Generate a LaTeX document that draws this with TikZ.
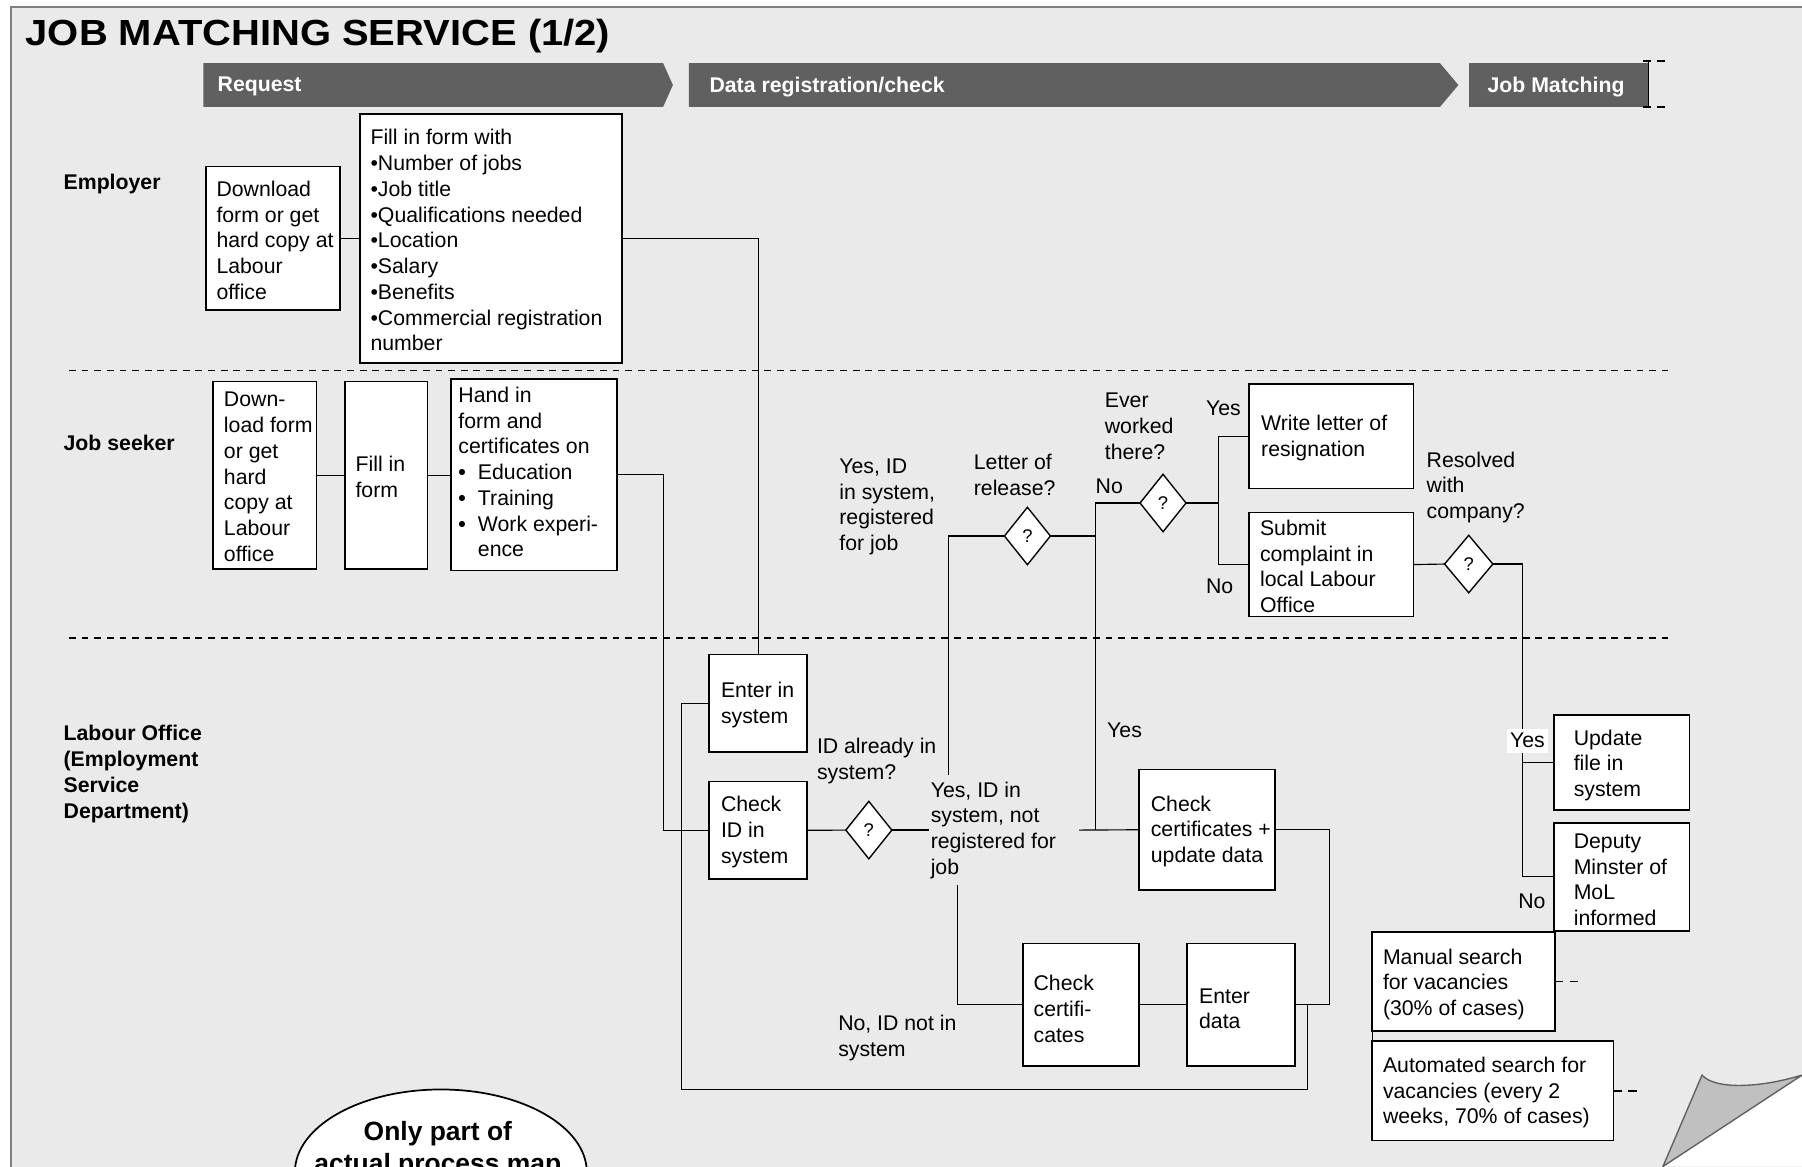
\documentclass[tikz,border=0pt]{standalone}
\usepackage{fontspec}
\usepackage{graphicx}
\setmainfont{Liberation Sans}
\usetikzlibrary{shapes.geometric,calc}
\definecolor{bgc}{HTML}{EAEAEA}
\definecolor{barc}{HTML}{606060}
\definecolor{framec}{HTML}{808080}
\definecolor{curlc}{HTML}{C0C0C0}
\newcommand{\fsn}{\fontsize{9.25pt}{11.2pt}\selectfont}
\newcommand{\blt}{\makebox[8.5pt][l]{\textbf{•}}}
% name, x1, y1, x2, y2, left pad (px), y offset of text (px), text
\newcommand{\mkbox}[8]{%
  \pgfmathsetmacro{\cxA}{(#2+#4)/2}%
  \pgfmathsetmacro{\cyA}{(#3+#5)/2}%
  \pgfmathsetmacro{\wA}{(#4-#2)*0.5}%
  \pgfmathsetmacro{\hA}{(#5-#3)*0.5}%
  \pgfmathsetmacro{\txA}{#2+#6}%
  \pgfmathsetmacro{\tyA}{\cyA+#7}%
  \node[box, minimum width=\wA pt, minimum height=\hA pt] (#1) at (\cxA,\cyA) {};
  \node[txt] (#1t) at (\txA,\tyA) {#8};
}
\begin{document}
\begin{tikzpicture}[x=0.5pt,y=-0.5pt,
  box/.style={draw=black, line width=0.75pt, fill=white, inner sep=0pt, outer sep=0pt},
  txt/.style={font=\fsn, align=left, inner sep=0pt, anchor=west, yshift=-0.75pt},
  lanetxt/.style={txt, font=\fsn\bfseries},
  phtxt/.style={txt, font=\fsn\bfseries, text=white},
  dia/.style={diamond, draw=black, line width=0.6pt, fill=white, inner sep=0pt, outer sep=0pt,
    minimum width=20pt, minimum height=25pt, font=\fontsize{8pt}{9.6pt}\selectfont},
  conn/.style={line width=0.5pt},
  thk/.style={line width=1.1pt},
  lanediv/.style={line width=0.7pt, dash pattern=on 3pt off 2.5pt}
]
\useasboundingbox (0,0) rectangle (1568,1015);
\clip (0,0) rectangle (1568,1015);
\fill[white] (0,0) rectangle (1568,1015);
% page
\filldraw[fill=bgc, draw=framec, line width=0.8pt] (9.6,5.8) rectangle (1620,1080);

% title
\node[anchor=base west, inner sep=0pt] (title) at (22,40)
  {\scalebox{1.1}[1]{\fontsize{15.8pt}{18pt}\selectfont\bfseries JOB MATCHING SERVICE (1/2)}};

% phase bars
\fill[barc] (177,55) -- (577,55) -- (585.5,74) -- (577,93) -- (177,93) -- cycle;
\fill[barc] (599.5,55) -- (1253,55) -- (1269,74) -- (1253,93) -- (599.5,93) -- cycle;
\fill[barc] (1278,55) rectangle (1434,93);
\node[phtxt] (ph1) at (189,74) {Request};
\node[phtxt] (ph2) at (617,74) {Data registration/check};
\node[phtxt] (ph3) at (1294,74) {Job Matching};
\draw[line width=0.4pt] (1434,53) -- (1434,93);
\draw[line width=0.9pt, dash pattern=on 3.5pt off 2.5pt] (1430,53) -- (1450,53);
\draw[line width=0.9pt, dash pattern=on 3.5pt off 2.5pt] (1430,93) -- (1450,93);

% lane dividers
\draw[lanediv] (60,322.5) -- (1451,322.5);
\draw[lanediv] (60,555) -- (1451,555);

% lane labels
\node[lanetxt] (lEmp) at (55,159) {Employer};
\node[lanetxt] (lJob) at (55,384) {Job seeker};
\node[lanetxt] (lLab) at (55,672) {Labour Office\\(Employment\\Service\\Department)};

% boxes
\mkbox{e1}{179}{145}{296}{270}{9}{0}{Download\\form or get\\hard copy at\\Labour\\office}
\mkbox{e2}{313}{99}{541}{316}{9}{0}{Fill in form with\\•Number of jobs\\•Job title\\•Qualifications needed\\•Location\\•Salary\\•Benefits\\•Commercial registration\\number}
\mkbox{j1}{185.5}{332}{275.5}{495}{9}{0}{Down-\\load form\\or get\\hard\\copy at\\Labour\\office}
\mkbox{j2}{300}{332}{372}{495}{9}{0}{Fill in\\form}
\mkbox{j3}{392.5}{330}{537}{496.5}{6}{-4}{Hand in\\form and\\certificates on\\\blt Education\\\blt Training\\\blt Work experi-\\\hspace*{8.5pt}ence}
\mkbox{ent}{617}{569.5}{702.5}{654.5}{10}{0}{Enter in\\system}
\mkbox{chk}{617}{680}{702.5}{765}{10}{0}{Check\\ID in\\system}
\mkbox{ccu}{991}{669.5}{1109.5}{774.5}{10}{0}{Check\\certificates +\\update data}
\mkbox{cc}{890}{821}{991}{927.5}{9}{2}{Check\\certifi-\\cates}
\mkbox{entd}{1033}{821}{1127}{927.5}{10}{2}{Enter\\data}
\mkbox{wl}{1087}{334}{1230}{425}{10}{0}{Write letter of\\resignation}
\mkbox{sc}{1087}{446}{1230}{536.5}{9}{0}{Submit\\complaint in\\local Labour\\Office}
\mkbox{upd}{1352}{622}{1470}{705}{17}{1}{Update\\file in\\system}
\mkbox{dep}{1352}{716}{1470}{810}{17}{1}{Deputy\\Minster of\\MoL\\informed}
\mkbox{man}{1194}{811}{1353}{897}{9}{1}{Manual search\\for vacancies\\(30\% of cases)}
\mkbox{aut}{1194}{906}{1404}{992.5}{9}{0}{Automated search for\\vacancies (every 2\\weeks, 70\% of cases)}

% diamonds
\node[dia] (d1) at (756,722.3) {?};
\node[dia] (d2) at (894,466.4) {?};
\node[dia] (d3) at (1012,437.7) {?};
\node[dia, minimum width=21pt] (d4) at (1278,490.8) {?};

% helper coordinates
\coordinate (cj) at (577,413);
\coordinate (lpL) at (593,948);
\coordinate (lpR) at (1138,948);
\coordinate (cR) at (1157,876);
\coordinate (yn1) at (808.5,722.3);
\coordinate (yn2) at (939,722.3);
\coordinate (up1) at (825,674.5);
\coordinate (dn1) at (833,770);
\coordinate (cV) at (953,466.4);
\coordinate (cW) at (1060,437.7);
\coordinate (cY) at (1325,490.8);

% connectors
\draw[conn] (e1.east) -- (e1.east -| e2.west);
\draw[conn] (e2.east) -| (ent.north);
\draw[conn] (j1.east) -- (j1.east -| j2.west);
\draw[conn] (j2.east) -- (j2.east -| j3.west);
\draw[conn] (j3.east) -- (j3.east -| cj) |- (chk.west);
\draw[conn] (ent.west) -| (lpL) -- (lpR) |- (entd.east);
\draw[conn] (entd.east) -- (entd.east -| cR) |- (ccu.east);
\draw[conn] (chk.east) -- (d1.west);
\draw[thk] (d1.east) -- (yn1);
\draw[conn] (yn2) -- (ccu.west);
\draw[conn] (up1) |- (d2.west);
\draw[conn] (dn1) |- (cc.west);
\draw[conn] (cc.east) -- (cc.east -| entd.west);
\draw[thk] (d2.east) -- (cV);
\draw[conn] (cV |- d3.west) -- (d3.west);
\draw[conn] (cV |- d3.west) -- (cV |- ccu.west);
\draw[thk] (d3.east) -- (cW);
\draw[conn] (wl.west) -| (cW) |- (sc.west);
\draw[conn] (sc.east) -- (d4.west);
\draw[thk] (d4.east) -- (cY);
\draw[conn] (cY) |- (dep.west);
\draw[conn] (cY |- upd.west) -- (upd.west);
\draw[conn] (man.south west) -- (aut.north west);
\draw[line width=0.75pt, dash pattern=on 3.5pt off 3pt] (man.east) -- ++(22,0);
\draw[line width=0.75pt, dash pattern=on 3.5pt off 3pt] (aut.east) -- ++(22,0);

% labels
\node[txt] (lb1) at (730,439.5) {Yes, ID\\in system,\\registered\\for job};
\node[txt] (lb2) at (847,411.5) {Letter of\\release?};
\node[txt] (lb3) at (961,369.5) {Ever\\worked\\there?};
\node[txt] (lb4) at (953,422) {No};
\node[txt] (lb5) at (1049,354) {Yes};
\node[txt] (lb6) at (1049,509) {No};
\node[txt] (lb7) at (1241,422.5) {Resolved\\with\\company?};
\node[txt] (lb8) at (710.5,661) {ID already in\\system?};
\node[txt] (lb9) at (809.5,721) {Yes, ID in\\system, not\\registered for\\job};
\node[txt] (lb10) at (963,634) {Yes};
\node[txt] (lb11) at (729,901.5) {No, ID not in\\system};
\node[txt, fill=white, inner xsep=1.5pt, inner ysep=2pt, anchor=center] (lb12) at (1329,643) {Yes};
\node[txt, anchor=center] (lb13) at (1333,783) {No};

% ellipse note
\node[ellipse, draw=black, line width=0.75pt, fill=white, minimum width=127pt, minimum height=72pt, inner sep=0pt] (ell) at (383.6,1020) {};
\node[anchor=base, inner sep=0pt, font=\fontsize{11.5pt}{13.8pt}\selectfont\bfseries] (ellt1) at (381,992.6) {Only part of};
\node[anchor=base, inner sep=0pt, font=\fontsize{11.5pt}{13.8pt}\selectfont\bfseries] (ellt2) at (381,1020.2) {actual process map};

% page curl
\fill[white] (1447,1015) -- (1568,936.5) -- (1568,1015) -- cycle;
\filldraw[fill=curlc, draw=barc, line width=0.6pt] (1481,935.5) .. controls (1492,948) and (1530,947) .. (1568,935.5) -- (1447,1015) -- cycle;
\end{tikzpicture}
\end{document}
